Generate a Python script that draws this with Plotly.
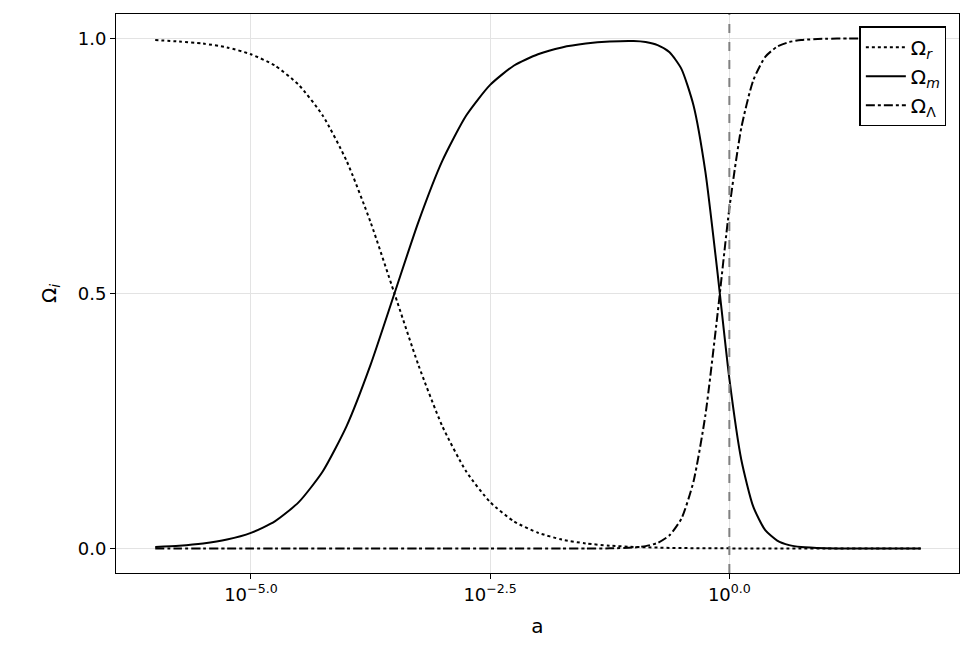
import plotly.graph_objects as go

log_a = [-6, -5.75, -5.5, -5.25, -5, -4.75, -4.5, -4.25, -4, -3.75, -3.5, -3.25, -3, -2.75, -2.5, -2.25, -2, -1.75, -1.5, -1.25, -1, -0.875, -0.75, -0.625, -0.5, -0.375, -0.25, -0.125, 0, 0.125, 0.25, 0.375, 0.5, 0.625, 0.75, 1, 1.25, 1.5, 1.75, 2]
omega_r = [0.997, 0.994, 0.990, 0.9825, 0.969, 0.947, 0.909, 0.849, 0.760, 0.640, 0.5, 0.360, 0.240, 0.151, 0.091, 0.053, 0.031, 0.0175, 0.0099, 0.0056, 0.0031, 0.0024, 0.0018, 0.0012, 0.0009, 0.0007, 0.0005, 0.0004, 0.0003, 0.0001, 0.0001, 0, 0, 0, 0, 0, 0, 0, 0, 0]
omega_m = [0.00315, 0.0056, 0.0099, 0.0175, 0.0306, 0.0532, 0.0909, 0.151, 0.240, 0.360, 0.5, 0.640, 0.760, 0.849, 0.909, 0.947, 0.969, 0.9825, 0.990, 0.994, 0.995, 0.993, 0.987, 0.973, 0.940, 0.869, 0.738, 0.543, 0.333, 0.174, 0.082, 0.036, 0.0156, 0.0066, 0.0028, 0.0005, 0.0001, 0, 0, 0]
omega_l = [0, 0, 0, 0, 0, 0, 0, 0, 0, 0, 0, 0, 0, 0, 0, 0, 0, 0, 0.00006, 0.00035, 0.002, 0.0047, 0.011, 0.026, 0.059, 0.131, 0.262, 0.457, 0.667, 0.825, 0.918, 0.964, 0.984, 0.993, 0.997, 0.9995, 0.9999, 1, 1, 1]
tick_vals = [-5, -2.5, 0]
tick_text = ["10<sup>−5.0</sup>", "10<sup>−2.5</sup>", "10<sup>0.0</sup>"]

fig = go.Figure()
for y, name, dash in [(omega_r, "Ω<sub><i>r</i></sub>", "dot"),
                      (omega_m, "Ω<sub><i>m</i></sub>", "solid"),
                      (omega_l, "Ω<sub>Λ</sub>", "dashdot")]:
    fig.add_trace(go.Scatter(x=log_a, y=y, mode="lines", name=name,
                             line=dict(color="black", width=2, dash=dash, shape="spline", smoothing=0.6)))
fig.add_vline(x=0, line=dict(color="gray", width=2, dash="dash"))
ax = dict(showline=True, linecolor="black", linewidth=1, mirror=True, gridcolor="#e3e3e3",
          ticks="outside", tickcolor="black", zeroline=False, tickfont=dict(size=18))
fig.update_layout(
    width=968, height=660, plot_bgcolor="white", paper_bgcolor="white",
    margin=dict(l=108, r=17, t=6, b=95),
    font=dict(family="DejaVu Sans", color="black"),
    xaxis=dict(ax, range=[-6.41, 2.4], tickvals=tick_vals, ticktext=tick_text,
               title=dict(text="a", font=dict(size=20))),
    yaxis=dict(ax, range=[-0.048, 1.048], tickvals=[0, 0.5, 1], ticktext=["0.0", "0.5", "1.0"],
               title=dict(text="Ω<sub><i>i</i></sub>", font=dict(size=20))),
    legend=dict(x=0.985, y=0.978, xanchor="right", yanchor="top", bordercolor="black",
                borderwidth=1.5, bgcolor="white", font=dict(size=20), tracegroupgap=8,
                itemwidth=40),
)
fig.write_html("out.html")
